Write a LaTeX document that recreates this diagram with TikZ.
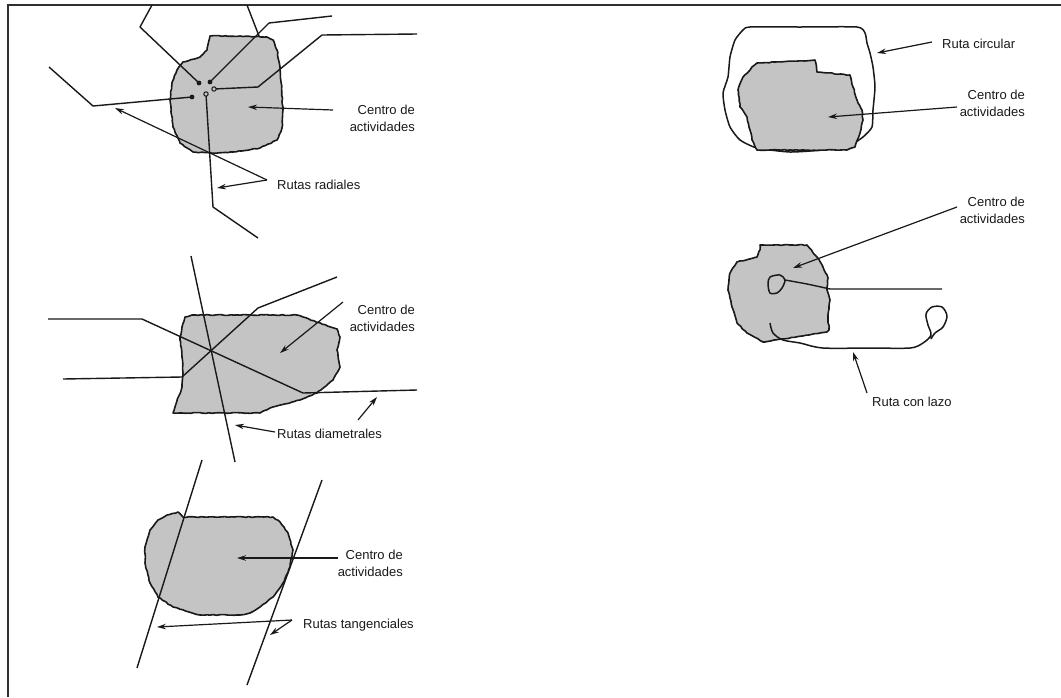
\documentclass[tikz,border=0pt]{standalone}
\usepackage{fontspec}
\setmainfont{Liberation Sans}
\usetikzlibrary{arrows.meta,decorations.pathmorphing}
\definecolor{zonegray}{RGB}{196,196,196}
\definecolor{ink}{RGB}{25,25,25}
\begin{document}
\begin{tikzpicture}[x=1pt,y=-1pt,
  frame/.style={draw=ink!90, line width=1.4pt},
  blob/.style={draw=ink, fill=zonegray, line width=1.6pt, line join=round,
    decorate, decoration={random steps, segment length=3pt, amplitude=0.45pt}},
  loopline/.style={draw=ink, line width=1.5pt, line join=round},
  route/.style={draw=ink, line width=1.4pt, line join=round},
  arr/.style={draw=ink, line width=1.2pt, -{Stealth[length=9pt,width=5.5pt]}},
  lbl/.style={font=\fontsize{13}{16.5}\selectfont, inner sep=0pt, text=ink},
  stop/.style={fill=ink},
  ring/.style={draw=ink, line width=1pt, fill=zonegray}]
\pgfmathsetseed{11}
\useasboundingbox (0,0) rectangle (1061,697);

% page frame: top and left rules
\coordinate (fc) at (8,5);
\draw[frame] (1061,5) -- (fc) -- (8,697);

% ---------- radial routes ----------
\draw[blob] (210,36) -- (207,50) -- (200,57) -- (183,62) -- (177,70) -- (172,83)
  -- (170,100) -- (173,127) -- (180,143) -- (193,152) -- (210,153) -- (233,152)
  -- (260,148) -- (277,140) -- (282,128) -- (283,110) -- (280,67) -- (277,50)
  -- (273,40) -- (267,37) -- (240,36) -- cycle;
\coordinate (rs1) at (199,83);
\coordinate (rs2) at (210,82);
\coordinate (rs3) at (214,89);
\coordinate (rs4) at (192,97);
\coordinate (rs5) at (206,94);
\draw[route] (152,5) -- (140,27) -- (rs1);
\draw[route] (247,5) -- (259,36);
\draw[route] (rs2) -- (269,23) -- (332,16);
\draw[route] (rs3) -- (258,87) -- (322,35) -- (417,34);
\draw[route] (rs4) -- (93,106) -- (49,67);
\draw[route] (rs5) -- (213,207) -- (258,238);
\fill[stop] (rs1) circle (2.4);
\fill[stop] (rs2) circle (2.4);
\fill[stop] (rs4) circle (2.4);
\draw[ring] (rs3) circle (2.2);
\draw[ring] (rs5) circle (2.2);

\node[lbl, align=right, anchor=north east] (c1) at (415,105) {Centro de\\actividades};
\node[lbl, anchor=base west] (r1) at (277,189) {Rutas radiales};
\coordinate (c1s) at (333,110);
\coordinate (c1t) at (248,107);
\coordinate (r1s) at (267,180);
\coordinate (r1a) at (115,108);
\coordinate (r1b) at (217,188);
\draw[arr] (c1s) -- (c1t);
\draw[arr] (r1s) -- (r1a);
\draw[arr] (r1s) -- (r1b);

% ---------- diametral routes ----------
\draw[blob] (185,317) -- (192,315) -- (297,315) -- (337,329) -- (340,337)
  -- (337,350) -- (340,367) -- (333,380) -- (317,393) -- (300,400) -- (273,407)
  -- (260,413) -- (173,413) -- (175,407) -- (182,387) -- (183,373) -- (182,357)
  -- (180,340) -- (182,327) -- cycle;
\draw[route] (191,256) -- (235,462);
\draw[route] (48,319) -- (142,319) -- (303,393) -- (417,390);
\draw[route] (63,379) -- (182,377) -- (258,308) -- (337,277);

\node[lbl, align=right, anchor=north east] (c2) at (415,305) {Centro de\\actividades};
\node[lbl, anchor=base west] (r2) at (277,438) {Rutas diametrales};
\coordinate (c2s) at (343,302);
\coordinate (c2t) at (280,353);
\coordinate (r2s) at (275,432);
\coordinate (r2a) at (235,425);
\coordinate (r2u) at (358,420);
\coordinate (r2b) at (377,397);
\draw[arr] (c2s) -- (c2t);
\draw[arr] (r2s) -- (r2a);
\draw[arr] (r2u) -- (r2b);

% ---------- tangential routes ----------
\draw[blob] (183,517) -- (273,517) -- (280,522) -- (288,533) -- (293,550)
  -- (290,567) -- (283,583) -- (273,597) -- (260,607) -- (250,613) -- (240,615)
  -- (200,615) -- (173,607) -- (158,597) -- (150,583) -- (145,563) -- (145,547)
  -- (150,530) -- (158,520) -- (167,515) -- (178,512) -- cycle;
\draw[route] (202,460) -- (137,668);
\draw[route] (322,480) -- (247,685);

\node[lbl, align=right, anchor=north east] (c3) at (403,550) {Centro de\\actividades};
\node[lbl, anchor=base west] (r3) at (303,628) {Rutas tangenciales};
\coordinate (c3s) at (338,558);
\coordinate (c3t) at (237,558);
\coordinate (r3s) at (292,620);
\coordinate (r3a) at (157,627);
\coordinate (r3b) at (270,635);
\draw[arr] (c3s) -- (c3t);
\draw[arr] (r3s) -- (r3a);
\draw[arr] (r3s) -- (r3b);

% ---------- circular route ----------
\draw[loopline] plot[smooth cycle, tension=0.35] coordinates {
  (750,27) (800,27) (857,27) (865,33) (867,43) (870,53) (873,67) (875,87)
  (873,110) (872,127) (863,137) (847,147) (823,150) (790,152) (757,148)
  (740,140) (730,127) (725,110) (723,93) (728,77) (730,57) (735,40) (743,30)};
\draw[blob] (752,67) -- (757,63) -- (815,60) -- (817,72) -- (850,75) -- (853,87)
  -- (857,100) -- (862,110) -- (863,120) -- (860,133) -- (855,147) -- (847,150)
  -- (757,150) -- (752,140) -- (750,130) -- (747,117) -- (740,107) -- (738,90)
  -- (743,77) -- (750,70) -- cycle;

\node[lbl, anchor=base west] (r4) at (942,48) {Ruta circular};
\node[lbl, align=right, anchor=north east] (c4) at (1025,90) {Centro de\\actividades};
\coordinate (r4s) at (932,42);
\coordinate (r4t) at (877,53);
\coordinate (c4s) at (957,107);
\coordinate (c4t) at (828,117);
\draw[arr] (r4s) -- (r4t);
\draw[arr] (c4s) -- (c4t);

% ---------- loop route ----------
\draw[blob] (760,245) -- (807,245) -- (817,257) -- (823,267) -- (828,278)
  -- (827,290) -- (830,300) -- (828,317) -- (829,330) -- (827,332) -- (763,342)
  -- (747,333) -- (737,323) -- (732,307) -- (728,290) -- (730,273) -- (737,262)
  -- (757,257) -- (760,250) -- cycle;
\draw[loopline] plot[smooth cycle, tension=0.5] coordinates {
  (770,277) (780,275) (785,280) (782,288) (777,293) (770,293) (768,284)};
\draw[route] plot[smooth, tension=0.4] coordinates {(785,280) (807,284) (830,289)}
  -- (942,289);
\draw[loopline] plot[smooth, tension=0.5] coordinates {
  (770,323) (773,333) (783,340) (800,343) (823,348) (870,348) (910,348)
  (923,343) (931,335) (928,325) (926,314) (932,307) (942,307) (947,316)
  (943,327) (935,333) (931,339)};

\node[lbl, align=right, anchor=north east] (c5) at (1025,197) {Centro de\\actividades};
\node[lbl, anchor=base west] (r5) at (872,406) {Ruta con lazo};
\coordinate (c5s) at (957,207);
\coordinate (c5t) at (793,268);
\coordinate (r5s) at (867,393);
\coordinate (r5t) at (853,352);
\draw[arr] (c5s) -- (c5t);
\draw[arr] (r5s) -- (r5t);
\end{tikzpicture}
\end{document}
